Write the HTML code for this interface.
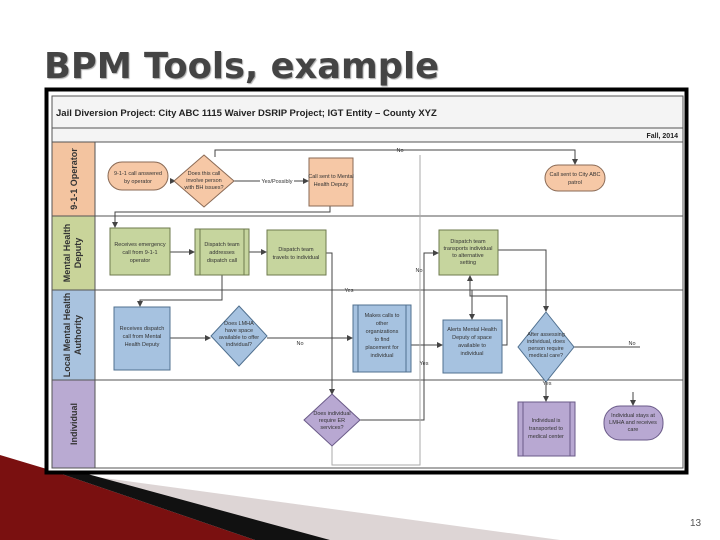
<!DOCTYPE html>
<html><head><meta charset="utf-8"><style>
html,body{margin:0;padding:0;background:#fff;width:720px;height:540px;overflow:hidden}
svg{display:block}
</style></head><body>
<svg width="720" height="540" viewBox="0 0 720 540" xmlns="http://www.w3.org/2000/svg" font-family="Liberation Sans, sans-serif">
<defs>
<marker id="a" markerWidth="6" markerHeight="6" refX="5" refY="3" orient="auto"><path d="M0,0 L6,3 L0,6z" fill="#444"/></marker>
</defs>
<!-- bottom decoration -->
<polygon points="60,472 560,540 330,540" fill="#ddd5d5"/>
<polygon points="0,455 50,470 255,540 0,540" fill="#7a1010"/>
<polygon points="50,470 80,472 330,540 255,540" fill="#111"/>
<text x="44" y="78" font-size="36" font-weight="bold" fill="#444" font-family="DejaVu Sans, sans-serif" textLength="395" lengthAdjust="spacingAndGlyphs" style="text-shadow:1px 1px 1px #aaa">BPM Tools, example</text>
<text x="690" y="526" font-size="10" fill="#555">13</text>
<!-- frame -->
<rect x="46.5" y="89.5" width="640" height="383" fill="#fff" stroke="#000" stroke-width="4"/>
<rect x="52" y="96" width="631" height="372" fill="#fff" stroke="#555" stroke-width="1"/>
<rect x="52" y="96" width="631" height="32" fill="#f4f4f4" stroke="#555" stroke-width="1"/>
<rect x="52" y="128" width="631" height="14" fill="#f4f4f4" stroke="#555" stroke-width="1"/>
<text x="56" y="116" font-size="9.5" font-weight="bold" fill="#222">Jail Diversion Project: City ABC 1115 Waiver DSRIP Project; IGT Entity – County XYZ</text>
<text x="678" y="138" font-size="7" font-weight="bold" fill="#222" text-anchor="end">Fall, 2014</text>
<!-- lanes -->
<rect x="52" y="142" width="43" height="74" fill="#f3c4a0" stroke="#555"/>
<rect x="52" y="216" width="43" height="74" fill="#c9d49a" stroke="#555"/>
<rect x="52" y="290" width="43" height="90" fill="#a9c3df" stroke="#555"/>
<rect x="52" y="380" width="43" height="88" fill="#b9aad2" stroke="#555"/>
<line x1="95" y1="216" x2="683" y2="216" stroke="#555"/>
<line x1="95" y1="290" x2="683" y2="290" stroke="#555"/>
<line x1="95" y1="380" x2="683" y2="380" stroke="#555"/>
<g font-size="9" font-weight="bold" fill="#333" text-anchor="middle">
<text transform="translate(77,179) rotate(-90)">9-1-1 Operator</text>
<text transform="translate(70,253) rotate(-90)">Mental Health</text>
<text transform="translate(81,253) rotate(-90)">Deputy</text>
<text transform="translate(70,335) rotate(-90)">Local Mental Health</text>
<text transform="translate(81,335) rotate(-90)">Authority</text>
<text transform="translate(77,424) rotate(-90)">Individual</text>
</g>
<!-- connectors -->
<g stroke="#444" stroke-width="1" fill="none">
<line x1="170" y1="181" x2="175" y2="181" marker-end="url(#a)"/>
<line x1="234" y1="181" x2="260" y2="181"/>
<line x1="294" y1="181" x2="308" y2="181" marker-end="url(#a)"/>
<polyline points="215,157 215,150 575,150 575,164" marker-end="url(#a)"/>
<polyline points="330,206 330,212 115,212 115,227" marker-end="url(#a)"/>
<line x1="170" y1="252" x2="194" y2="252" marker-end="url(#a)"/>
<line x1="249" y1="252" x2="266" y2="252" marker-end="url(#a)"/>
<polyline points="326,253 332,253 332,394" marker-end="url(#a)"/>
<polyline points="222,275 222,300 140,300 140,306" marker-end="url(#a)"/>
<line x1="170" y1="338" x2="210" y2="338" marker-end="url(#a)"/>
<line x1="267" y1="338" x2="352" y2="338" marker-end="url(#a)"/>
<line x1="411" y1="345" x2="442" y2="345" marker-end="url(#a)"/>
<polyline points="502,345 507,345 507,296 470,296 470,276" marker-end="url(#a)"/>
<polyline points="498,250 546,250 546,311" marker-end="url(#a)"/>
<line x1="472" y1="290" x2="472" y2="319" marker-end="url(#a)"/>
<line x1="574" y1="347" x2="640" y2="347"/>
<line x1="546" y1="382" x2="546" y2="401" marker-end="url(#a)"/>
<line x1="633" y1="392" x2="633" y2="405" marker-end="url(#a)"/>
<polyline points="360,420 424,420 424,275 424,253 438,253" marker-end="url(#a)"/>
</g>
<g stroke="#aaa" stroke-width="1" fill="none">
<polyline points="420,155 420,465 332,465 332,446"/>
</g>
<!-- shapes -->
<g stroke="#8a6a55" stroke-width="1">
<rect x="108" y="162" width="60" height="28" rx="14" fill="#f6c8a6"/>
<polygon points="204,155 234,181 204,207 174,181" fill="#f6c8a6"/>
<rect x="309" y="158" width="44" height="48" fill="#f6c8a6"/>
<rect x="545" y="165" width="60" height="26" rx="13" fill="#f6c8a6"/>
</g>
<g stroke="#6e7a4e" stroke-width="1" fill="#c6d59e">
<rect x="110" y="228" width="60" height="47"/>
<rect x="195" y="229" width="54" height="46"/>
<line x1="200" y1="229" x2="200" y2="275"/><line x1="244" y1="229" x2="244" y2="275"/>
<rect x="267" y="230" width="59" height="45"/>
<rect x="439" y="230" width="59" height="45"/>
</g>
<g stroke="#50708f" stroke-width="1" fill="#a6c2e0">
<rect x="114" y="307" width="56" height="63"/>
<polygon points="239,306 267,336 239,366 211,336"/>
<rect x="353" y="305" width="58" height="67"/>
<line x1="358" y1="305" x2="358" y2="372"/><line x1="406" y1="305" x2="406" y2="372"/>
<rect x="443" y="320" width="59" height="53"/>
<polygon points="546,312 574,347 546,382 518,347"/>
</g>
<g stroke="#6a5a88" stroke-width="1" fill="#b8a8d2">
<polygon points="332,394 360,420 332,446 304,420"/>
<rect x="518" y="402" width="57" height="54"/>
<line x1="523" y1="402" x2="523" y2="456"/><line x1="570" y1="402" x2="570" y2="456"/>
<rect x="604" y="406" width="59" height="34" rx="16"/>
</g>
<!-- labels -->
<g font-size="5.5" fill="#333" text-anchor="middle">
<text x="138" y="175">9-1-1 call answered</text><text x="138" y="183">by operator</text>
<text x="204" y="175">Does this call</text><text x="204" y="182">involve person</text><text x="204" y="189">with BH issues?</text>
<text x="277" y="183">Yes/Possibly</text>
<text x="331" y="178">Call sent to Mental</text><text x="331" y="186">Health Deputy</text>
<text x="575" y="176">Call sent to City ABC</text><text x="575" y="184">patrol</text>
<text x="400" y="152">No</text>
<text x="140" y="246">Receives emergency</text><text x="140" y="254">call from 9-1-1</text><text x="140" y="262">operator</text>
<text x="222" y="246">Dispatch team</text><text x="222" y="254">addresses</text><text x="222" y="262">dispatch call</text>
<text x="296" y="251">Dispatch team</text><text x="296" y="259">travels to individual</text>
<text x="468" y="243">Dispatch team</text><text x="468" y="250">transports individual</text><text x="468" y="257">to alternative</text><text x="468" y="264">setting</text>
<text x="349" y="292">Yes</text><text x="419" y="272">No</text><text x="424" y="365">Yes</text>
<text x="142" y="330">Receives dispatch</text><text x="142" y="338">call from Mental</text><text x="142" y="346">Health Deputy</text>
<text x="239" y="325">Does LMHA</text><text x="239" y="332">have space</text><text x="239" y="339">available to offer</text><text x="239" y="346">individual?</text>
<text x="300" y="345">No</text>
<text x="382" y="317">Makes calls to</text><text x="382" y="325">other</text><text x="382" y="333">organizations</text><text x="382" y="341">to find</text><text x="382" y="349">placement for</text><text x="382" y="357">individual</text>
<text x="472" y="331">Alerts Mental Health</text><text x="472" y="339">Deputy of space</text><text x="472" y="347">available to</text><text x="472" y="355">individual</text>
<text x="546" y="336">After assessing</text><text x="546" y="343">individual, does</text><text x="546" y="350">person require</text><text x="546" y="357">medical care?</text>
<text x="632" y="345">No</text><text x="547" y="385">Yes</text>
<text x="332" y="415">Does individual</text><text x="332" y="422">require ER</text><text x="332" y="429">services?</text>
<text x="546" y="422">Individual is</text><text x="546" y="430">transported to</text><text x="546" y="438">medical center</text>
<text x="633" y="417">Individual stays at</text><text x="633" y="424">LMHA and receives</text><text x="633" y="431">care</text>
</g>
</svg>
</body></html>
